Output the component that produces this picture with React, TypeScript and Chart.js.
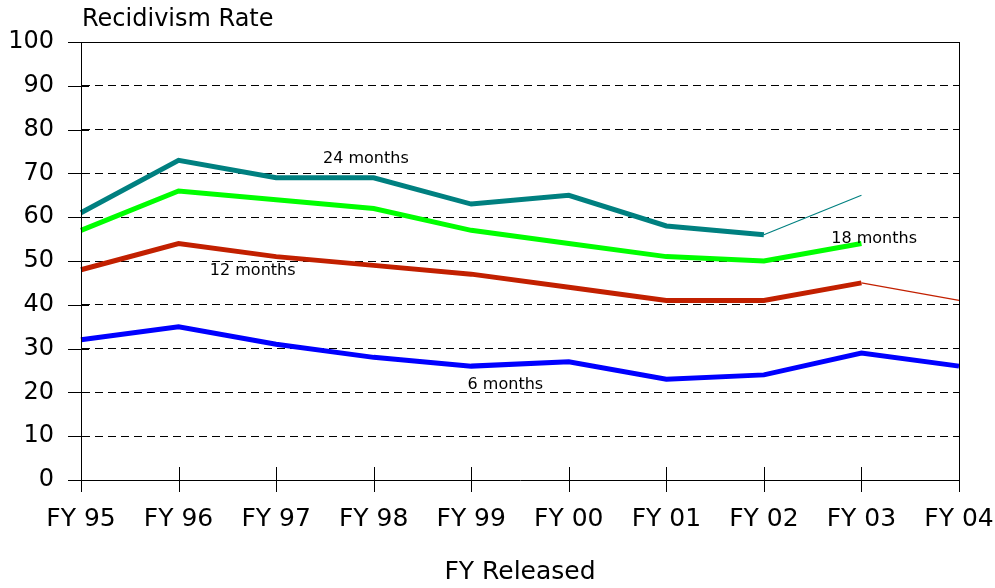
import React, { useEffect, useRef } from 'react';
import { Chart, registerables } from 'chart.js';

Chart.register(...registerables);

// ---- data ----
const categories = ['FY 95', 'FY 96', 'FY 97', 'FY 98', 'FY 99', 'FY 00', 'FY 01', 'FY 02', 'FY 03', 'FY 04'];
const months24 = [61, 73, 69, 69, 63, 65, 58, 56, null, null];
const months24Projected = [null, null, null, null, null, null, null, 56, 65, null];
const months18 = [57, 66, 64, 62, 57, 54, 51, 50, 54, null];
const months12 = [48, 54, 51, 49, 47, 44, 41, 41, 45, null];
const months12Projected = [null, null, null, null, null, null, null, null, 45, 41];
const months6 = [32, 35, 31, 28, 26, 27, 23, 24, 29, 26];
const yTickValues = [0, 10, 20, 30, 40, 50, 60, 70, 80, 90, 100];
const seriesNames = ['24 months', '18 months', '12 months', '6 months'];
// label anchor: fractional category index and value
const labelIndex = [2.92, 8.13, 1.76, 4.35];
const labelValue = [73.3, 55.0, 47.7, 21.7];

const yTitle = 'Recidivism Rate';
const xTitle = 'FY Released';

const FONT = "'DejaVu Sans', Verdana, sans-serif";

const colors = {
  m24: '#008080',
  m18: '#00FF00',
  m12: '#C22000',
  m6: '#0000FF',
};

export default function App() {
  const ref = useRef<HTMLCanvasElement | null>(null);

  useEffect(() => {
    if (!ref.current) return;
    const decor = {
      id: 'decor',
      afterDraw(chart: any) {
        const ctx = chart.ctx;
        const xs = chart.scales.x;
        const ys = chart.scales.y;
        const area = chart.chartArea;
        ctx.save();
        ctx.strokeStyle = '#000';
        ctx.lineWidth = 1;
        ctx.setLineDash([]);
        // top & right border
        ctx.beginPath();
        ctx.moveTo(area.left, Math.round(area.top) + 0.5);
        ctx.lineTo(area.right, Math.round(area.top) + 0.5);
        ctx.moveTo(Math.round(area.right) + 0.5, area.top);
        ctx.lineTo(Math.round(area.right) + 0.5, area.bottom);
        // y axis extension below
        ctx.moveTo(Math.round(area.left) + 0.5, area.top);
        ctx.lineTo(Math.round(area.left) + 0.5, area.bottom + 12);
        ctx.stroke();
        // y ticks
        ctx.beginPath();
        yTickValues.forEach((v) => {
          const y = Math.round(ys.getPixelForValue(v)) + 0.5;
          ctx.moveTo(area.left - 13, y);
          ctx.lineTo(area.left + 8, y);
        });
        // x ticks
        categories.forEach((_, i) => {
          const x = Math.round(xs.getPixelForValue(i)) + 0.5;
          ctx.moveTo(x, area.bottom - 13);
          ctx.lineTo(x, area.bottom + 12);
        });
        ctx.stroke();

        // series labels
        ctx.fillStyle = '#000';
        ctx.font = `16px ${FONT}`;
        ctx.textAlign = 'center';
        ctx.textBaseline = 'middle';
        seriesNames.forEach((name, k) => {
          const fi = labelIndex[k];
          const i0 = Math.floor(fi);
          const p0 = xs.getPixelForValue(i0);
          const p1 = xs.getPixelForValue(i0 + 1);
          const x = p0 + (fi - i0) * (p1 - p0);
          const y = ys.getPixelForValue(labelValue[k]);
          ctx.fillText(name, x, y);
        });

        // titles
        ctx.font = `24px ${FONT}`;
        ctx.textAlign = 'left';
        ctx.textBaseline = 'middle';
        ctx.fillText(yTitle, area.left + 1, 20);
        ctx.font = `25px ${FONT}`;
        ctx.textAlign = 'center';
        ctx.fillText(xTitle, (area.left + area.right) / 2, 572);
        ctx.restore();
      },
    };

    const chart = new Chart(ref.current, {
      type: 'line',
      data: {
        labels: categories,
        datasets: [
          { label: seriesNames[0], data: months24, borderColor: colors.m24, borderWidth: 5, pointRadius: 0, spanGaps: false },
          { label: seriesNames[0] + ' proj', data: months24Projected, borderColor: colors.m24, borderWidth: 1.2, pointRadius: 0 },
          { label: seriesNames[1], data: months18, borderColor: colors.m18, borderWidth: 5, pointRadius: 0 },
          { label: seriesNames[2], data: months12, borderColor: colors.m12, borderWidth: 5, pointRadius: 0 },
          { label: seriesNames[2] + ' proj', data: months12Projected, borderColor: colors.m12, borderWidth: 1.2, pointRadius: 0 },
          { label: seriesNames[3], data: months6, borderColor: colors.m6, borderWidth: 5, pointRadius: 0 },
        ],
      },
      plugins: [decor],
      options: {
        responsive: false,
        animation: false,
        devicePixelRatio: 1,
        layout: { padding: { left: 0, right: 36, top: 42, bottom: 0 } },
        plugins: { legend: { display: false }, tooltip: { enabled: false }, title: { display: false } },
        elements: { line: { tension: 0, borderCapStyle: 'butt', borderJoinStyle: 'miter' } },
        scales: {
          x: {
            type: 'category',
            offset: false,
            grid: { display: false, drawTicks: false },
            border: { display: true, color: '#000', width: 1 },
            ticks: {
              font: { family: FONT, size: 25 },
              color: '#000',
              padding: 24,
              maxRotation: 0,
              autoSkip: false,
            },
            afterFit: (s: any) => {
              s.height = 108;
              s.paddingLeft = 0;
              s.paddingRight = 0;
            },
          },
          y: {
            min: 0,
            max: 100,
            grid: {
              drawTicks: false,
              color: (c: any) => (c.tick && (c.tick.value === 0 || c.tick.value === 100) ? 'rgba(0,0,0,0)' : '#000'),
              lineWidth: 1,
            },
            border: { display: true, color: '#000', width: 1, dash: [8, 5] },
            ticks: {
              stepSize: 10,
              font: { family: FONT, size: 24 },
              color: '#000',
              padding: 27,
            },
            afterFit: (s: any) => {
              s.width = 81;
              s.paddingTop = 0;
              s.paddingBottom = 0;
            },
          },
        },
      },
    });
    return () => chart.destroy();
  }, []);

  return (
    <div style={{ position: 'absolute', left: 0, top: 0, width: 995, height: 588, background: '#fff' }}>
      <canvas ref={ref} width={995} height={588} style={{ width: 995, height: 588 }} />
    </div>
  );
}
